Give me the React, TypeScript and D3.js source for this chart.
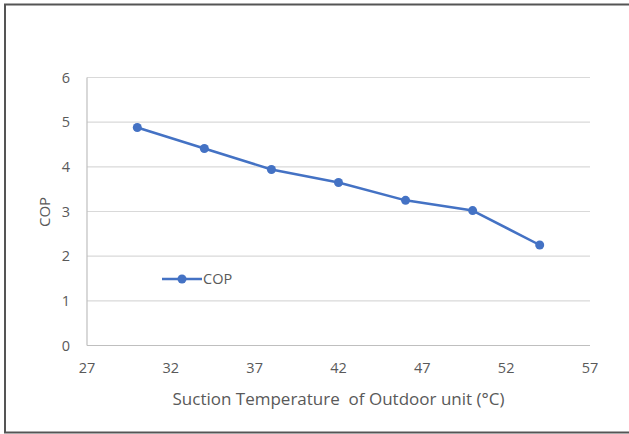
import React from "react";
import * as d3 from "d3";

const temps = [30, 34, 38, 42, 46, 50, 54];
const cop = [4.88, 4.41, 3.94, 3.65, 3.25, 3.02, 2.25];
const xTicks = [27, 32, 37, 42, 47, 52, 57];
const yTicks = [0, 1, 2, 3, 4, 5, 6];
const seriesName = "COP";
const xTitle = "Suction Temperature  of Outdoor unit (°C)";
const yTitle = "COP";

export default function App() {
  const W = 629, H = 434;
  const x = d3.scaleLinear().domain([27, 57]).range([87, 590]);
  const y = d3.scaleLinear().domain([0, 6]).range([345.5, 77.5]);
  const line = d3.line<number>().x((_, i) => x(temps[i])).y((d) => y(d));
  const font = "Open Sans, Noto Sans, sans-serif";
  const txt = "#595959";
  const blue = "#4472C4";
  return (
    <svg width={W} height={H} style={{ position: "absolute", left: 0, top: 0, background: "#fff" }}>
      <rect x={5} y={4.5} width={640} height={428} fill="#fff" stroke="#555" strokeWidth={2} />
      {yTicks.map((t) => (
        <g key={t}>
          <line x1={x(27)} x2={x(57)} y1={y(t)} y2={y(t)} stroke={t === 0 ? "#bfbfbf" : "#d9d9d9"} strokeWidth={1.2} />
          <text x={70} y={y(t)} dy="0.36em" textAnchor="end" fontSize={14.5} fontFamily={font} fill={txt}>{t}</text>
        </g>
      ))}
      <line x1={x(27)} x2={x(27)} y1={y(6)} y2={y(0)} stroke="#bfbfbf" strokeWidth={1.2} />
      {xTicks.map((t) => (
        <text key={t} x={x(t)} y={373} textAnchor="middle" fontSize={14.5} fontFamily={font} fill={txt}>{t}</text>
      ))}
      <text x={338.5} y={405} textAnchor="middle" fontSize={17} fontFamily={font} fill={txt} style={{ whiteSpace: "pre" }}>{xTitle}</text>
      <text transform={`translate(50,212) rotate(-90)`} textAnchor="middle" fontSize={15} fontFamily={font} fill={txt}>{yTitle}</text>
      <path d={line(cop) || ""} fill="none" stroke={blue} strokeWidth={2.5} strokeLinejoin="round" />
      {cop.map((v, i) => (
        <circle key={i} cx={x(temps[i])} cy={y(v)} r={4.5} fill={blue} />
      ))}
      <line x1={162} x2={202} y1={279} y2={279} stroke={blue} strokeWidth={2.5} />
      <circle cx={182} cy={279} r={4.5} fill={blue} />
      <text x={203} y={284} fontSize={14.5} fontFamily={font} fill={txt}>{seriesName}</text>
    </svg>
  );
}
